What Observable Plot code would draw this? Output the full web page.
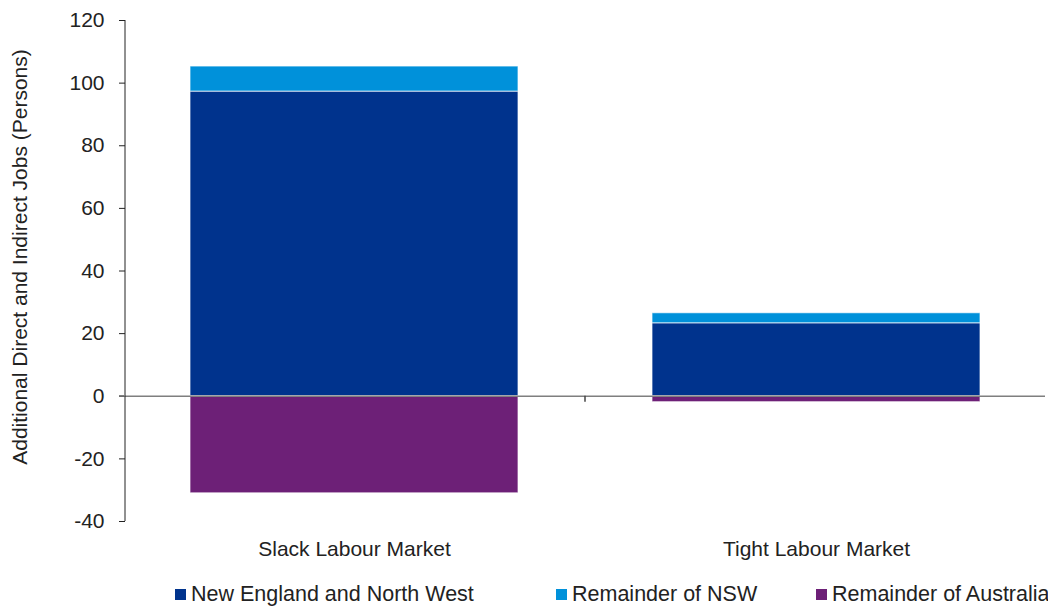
<!DOCTYPE html>
<html>
<head>
<meta charset="utf-8">
<script src="https://cdn.jsdelivr.net/npm/d3@7"></script>
<script src="https://cdn.jsdelivr.net/npm/@observablehq/plot@0.6"></script>
<style>
  html, body { margin: 0; padding: 0; background: #fff; }
  body { width: 1048px; height: 606px; overflow: hidden; font-family: "Liberation Sans", Arial, sans-serif; color: #222; }
  #legend { position: relative; height: 41px; font-size: 21.5px; }
  .item { position: absolute; top: 17px; display: flex; align-items: center; white-space: nowrap; }
  .sw { width: 11px; height: 11px; margin-right: 5px; }
</style>
</head>
<body>
<div id="chart"></div>
<div id="legend"></div>
<script>
const categories = ["Slack Labour Market", "Tight Labour Market"];
const seriesNames = ["New England and North West", "Remainder of NSW", "Remainder of Australia"];
const newEnglandNorthWest = [97.3, 23.3];
const remainderNSW = [8.0, 3.2];
const remainderAustralia = [-31.0, -1.9];
const yTicks = [-40, -20, 0, 20, 40, 60, 80, 100, 120];
const colors = ["#00338D", "#0091DA", "#6D2077"];

const seriesValues = [newEnglandNorthWest, remainderNSW, remainderAustralia];
const rows = [];
seriesNames.forEach((s, si) => categories.forEach((c, ci) => rows.push({category: c, series: s, value: seriesValues[si][ci]})));

const plot = Plot.plot({
  width: 1048,
  height: 565,
  marginLeft: 125,
  marginRight: 3,
  marginTop: 20,
  marginBottom: 44,
  style: {fontFamily: "'Liberation Sans', Arial, sans-serif", fontSize: "21px", color: "#222", background: "#fff"},
  x: {domain: categories, paddingInner: 0.29, paddingOuter: 0.14, label: null},
  y: {domain: [-40, 120], ticks: yTicks, label: null},
  color: {domain: seriesNames, range: colors},
  marks: [
    Plot.barY(rows, Plot.stackY({order: seriesNames, x: "category", y: "value", fill: "series", stroke: "white", strokeOpacity: 0.7, strokeWidth: 1})),
    Plot.ruleY([0], {stroke: "#7f7f7f", strokeWidth: 1.5}),
    Plot.axisY({ticks: yTicks, tickSize: 6, tickPadding: 15, fontSize: 21, tickFormat: d => String(d), label: null, stroke: "#222"}),
    Plot.axisX({tickSize: 0, tickPadding: 20, fontSize: 21, label: null}),
    Plot.text(["Additional Direct and Indirect Jobs (Persons)"], {frameAnchor: "left", textAnchor: "middle", dx: -105, dy: -14, rotate: -90, fontSize: 21, fill: "#222"})
  ]
});
document.getElementById("chart").appendChild(plot);

// y axis line, zero-line stub and the boundary tick between categories
const xs = plot.scale("x"), ys = plot.scale("y");
const svg = d3.select(plot.tagName === "svg" ? plot : plot.querySelector("svg"));
const y0 = ys.apply(0);
const left = xs.range[0];
svg.append("line").attr("x1", left).attr("x2", left).attr("y1", ys.apply(-40)).attr("y2", ys.apply(120)).attr("stroke", "#222").attr("stroke-width", 1);
const boundary = (xs.apply(categories[0]) + xs.bandwidth + xs.apply(categories[1])) / 2;
svg.append("line").attr("x1", boundary).attr("x2", boundary).attr("y1", y0).attr("y2", y0 + 6).attr("stroke", "#444").attr("stroke-width", 1.5);
svg.append("line").attr("x1", left - 6).attr("x2", left).attr("y1", y0).attr("y2", y0).attr("stroke", "#7f7f7f").attr("stroke-width", 1.5);

const legendPos = [175, 556, 816];
const legend = document.getElementById("legend");
seriesNames.forEach((s, i) => {
  const item = document.createElement("div");
  item.className = "item";
  item.style.left = legendPos[i] + "px";
  item.innerHTML = `<span class="sw" style="background:${colors[i]}"></span><span>${s}</span>`;
  legend.appendChild(item);
});
</script>
</body>
</html>
